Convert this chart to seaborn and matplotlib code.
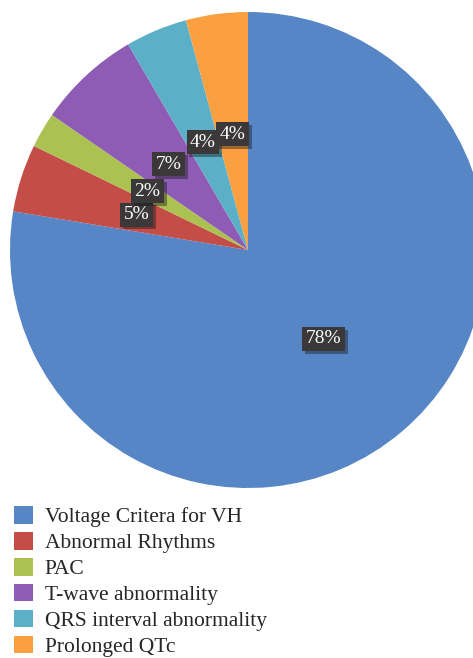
import matplotlib
matplotlib.use("Agg")
import matplotlib.pyplot as plt
import matplotlib.patheffects as pe
import seaborn as sns

# 数据
categories = ["Voltage Critera for VH", "Abnormal Rhythms", "PAC",
              "T-wave abnormality", "QRS interval abnormality", "Prolonged QTc"]
shares = [77.6, 4.6, 2.4, 7.0, 4.2, 4.2]
pct_labels = ["78%", "5%", "2%", "7%", "4%", "4%"]
colors = ["#5686C5", "#C54D48", "#ABC152", "#8E5CB4", "#5BB0C8", "#FBA040"]

sns.set_style("white")
plt.rcParams['font.family'] = ['Liberation Serif', 'DejaVu Serif']

fig = plt.figure(figsize=(4.73, 6.58), dpi=100)
# 饼图中心约 (248, 250)，半径约 238 像素
ax = fig.add_axes([10 / 473, 170 / 658, 476 / 473, 476 / 658])
wedges, texts = ax.pie(shares, colors=colors, startangle=90, counterclock=False,
                       radius=1, labels=pct_labels, labeldistance=0.49,
                       wedgeprops=dict(linewidth=0))
for w in wedges:
    w.set_clip_on(False)
for t in texts:
    t.set_ha("center")
    t.set_va("center")
    t.set_color("white")
    t.set_fontsize(14)
    t.set_bbox(dict(boxstyle="square,pad=0.18", facecolor="#3a3838", edgecolor="none"))
    t.get_bbox_patch().set_path_effects([pe.SimplePatchShadow(offset=(2, -2), alpha=0.4), pe.Normal()])
ax.set_xlim(-1, 1)
ax.set_ylim(-1, 1)
ax.axis("off")

fig.legend(wedges, categories, loc="upper left", bbox_to_anchor=(14 / 473, 1 - 506 / 658),
           frameon=False, fontsize=15.5, handlelength=0.88, handleheight=0.88,
           handletextpad=0.55, labelspacing=0.22, borderaxespad=0, borderpad=0)

fig.savefig("out.png", dpi=100)
